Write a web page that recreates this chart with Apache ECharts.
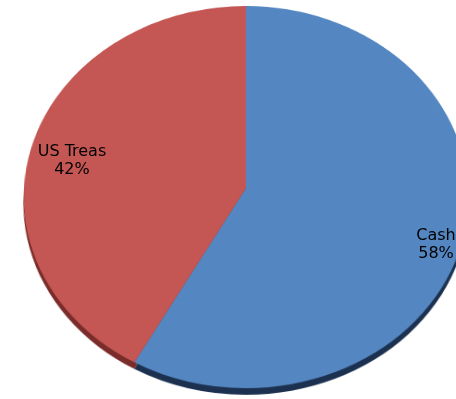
<!DOCTYPE html>
<html>
<head>
<meta charset="utf-8">
<script src="https://cdn.jsdelivr.net/npm/echarts@6/dist/echarts.min.js"></script>
<style>
  html, body { margin: 0; padding: 0; width: 456px; height: 399px; overflow: hidden; background: #fff; }
  /* tilted disc: the pie is drawn flat, then leaned back in 3D */
  #stage { position: absolute; left: 0; top: 0; width: 456px; height: 399px; overflow: hidden;
           perspective: 2386px; perspective-origin: 246px 189px; }
  #disc { position: absolute; left: -104px; top: -162px; width: 700px; height: 700px;
          transform-origin: 350px 350px; transform: rotateX(30.8deg); }
  #labels { position: absolute; left: 0; top: 0; width: 456px; height: 399px; }
</style>
</head>
<body>
<div id="stage"><div id="disc"></div></div>
<div id="labels"></div>
<script>
// Portfolio split
const categories = ['Cash', 'US Treas'];
const shares = [58, 42];

const topColors = ['#5487C2', '#C45753'];
const sideColors = ['#1C3150', '#7A2C2A'];

function sliceData(colors) {
  return categories.map((name, i) => ({
    name: name,
    value: shares[i],
    itemStyle: { color: colors[i] }
  }));
}

const disc = echarts.init(document.getElementById('disc'), null, { renderer: 'canvas' });
disc.setOption({
  animation: false,
  series: [
    {
      // side wall of the disc
      type: 'pie',
      center: [350, 357],
      radius: 222,
      startAngle: 90,
      clockwise: true,
      silent: true,
      label: { show: false },
      labelLine: { show: false },
      itemStyle: { borderWidth: 0 },
      data: sliceData(sideColors)
    },
    {
      // top face
      type: 'pie',
      center: [350, 350],
      radius: 222,
      startAngle: 90,
      clockwise: true,
      silent: true,
      label: { show: false },
      labelLine: { show: false },
      itemStyle: { borderWidth: 0 },
      data: sliceData(topColors)
    }
  ]
});

// Category labels, drawn upright over the tilted disc
const labels = echarts.init(document.getElementById('labels'), null, { renderer: 'canvas' });
labels.setOption({
  animation: false,
  series: [{
    type: 'pie',
    center: [254, 202],
    radius: [0, 374],
    startAngle: 90,
    clockwise: true,
    silent: true,
    itemStyle: { color: 'rgba(0,0,0,0)', borderWidth: 0 },
    label: {
      show: true,
      position: 'inside',
      formatter: p => p.name + '\n' + Math.round(p.percent) + '%',
      fontFamily: 'DejaVu Sans',
      fontSize: 16,
      lineHeight: 18,
      color: '#000',
      align: 'center'
    },
    // nudge the labels toward the tilted slices' visual centres
    labelLayout: p => (p.dataIndex === 0 ? { dx: -2, dy: -4 } : { dx: 2, dy: 6 }),
    labelLine: { show: false },
    data: categories.map((name, i) => ({ name: name, value: shares[i] }))
  }]
});
</script>
</body>
</html>
